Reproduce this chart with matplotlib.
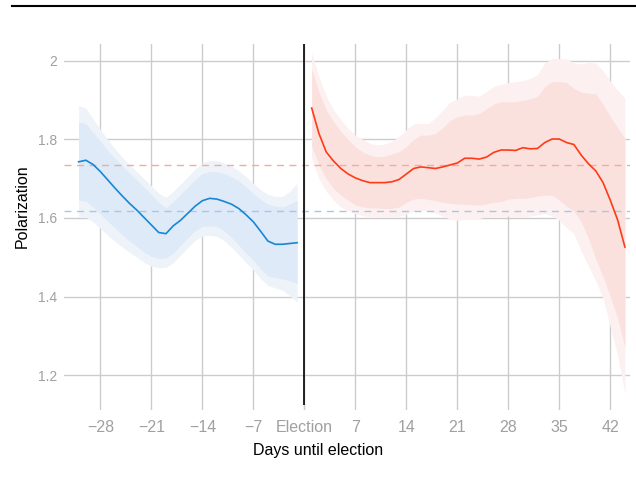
import matplotlib
matplotlib.use("Agg")
import matplotlib.pyplot as plt
from matplotlib.lines import Line2D

plt.rcParams['font.family'] = ['Liberation Sans', 'DejaVu Sans']

# дни до выборов (синяя часть) и после (красная часть)
days_before = list(range(-31, 0))
blue_mid = [1.743, 1.747, 1.736, 1.718, 1.697, 1.676, 1.656, 1.637, 1.620, 1.601,
            1.582, 1.563, 1.560, 1.580, 1.594, 1.612, 1.630, 1.644, 1.650, 1.648,
            1.642, 1.635, 1.624, 1.608, 1.590, 1.566, 1.541, 1.533, 1.533, 1.535, 1.537]
blue_in_hi = [1.844, 1.840, 1.817, 1.795, 1.772, 1.752, 1.733, 1.714, 1.697, 1.678,
              1.660, 1.640, 1.626, 1.642, 1.660, 1.679, 1.698, 1.713, 1.718, 1.718,
              1.713, 1.705, 1.694, 1.679, 1.662, 1.647, 1.635, 1.630, 1.628, 1.635, 1.645]
blue_in_lo = [1.645, 1.643, 1.628, 1.610, 1.592, 1.574, 1.557, 1.541, 1.527, 1.513,
              1.502, 1.497, 1.498, 1.510, 1.530, 1.550, 1.567, 1.578, 1.580, 1.578,
              1.567, 1.550, 1.531, 1.510, 1.492, 1.470, 1.452, 1.448, 1.445, 1.440, 1.433]
blue_out_hi = [1.886, 1.880, 1.852, 1.825, 1.800, 1.776, 1.755, 1.735, 1.718, 1.700,
               1.682, 1.663, 1.652, 1.668, 1.686, 1.705, 1.725, 1.740, 1.747, 1.746,
               1.740, 1.732, 1.720, 1.705, 1.688, 1.672, 1.660, 1.655, 1.655, 1.668, 1.688]
blue_out_lo = [1.603, 1.602, 1.590, 1.573, 1.556, 1.540, 1.526, 1.512, 1.500, 1.487,
               1.477, 1.473, 1.474, 1.486, 1.505, 1.525, 1.543, 1.554, 1.556, 1.553,
               1.542, 1.525, 1.506, 1.486, 1.467, 1.445, 1.428, 1.422, 1.416, 1.402, 1.386]

days_after = list(range(1, 45))
red_mid = [1.880, 1.815, 1.768, 1.745, 1.726, 1.712, 1.702, 1.695, 1.690, 1.690,
           1.690, 1.692, 1.698, 1.712, 1.726, 1.730, 1.728, 1.726, 1.730, 1.735,
           1.740, 1.752, 1.752, 1.750, 1.755, 1.767, 1.773, 1.773, 1.772, 1.779,
           1.776, 1.777, 1.792, 1.801, 1.801, 1.792, 1.787, 1.760, 1.738, 1.720,
           1.690, 1.645, 1.595, 1.526]
red_in_hi = [1.980, 1.920, 1.875, 1.845, 1.820, 1.800, 1.781, 1.768, 1.760, 1.756,
             1.757, 1.763, 1.769, 1.782, 1.800, 1.811, 1.811, 1.815, 1.830, 1.848,
             1.858, 1.862, 1.862, 1.866, 1.878, 1.890, 1.896, 1.896, 1.896, 1.900,
             1.903, 1.910, 1.935, 1.947, 1.947, 1.945, 1.930, 1.920, 1.918, 1.916,
             1.890, 1.858, 1.830, 1.803]
red_in_lo = [1.782, 1.735, 1.700, 1.675, 1.658, 1.645, 1.633, 1.628, 1.626, 1.625,
             1.624, 1.624, 1.628, 1.640, 1.648, 1.650, 1.647, 1.644, 1.640, 1.637,
             1.636, 1.635, 1.634, 1.633, 1.636, 1.640, 1.642, 1.648, 1.650, 1.650,
             1.652, 1.656, 1.658, 1.658, 1.645, 1.630, 1.618, 1.590, 1.548, 1.495,
             1.450, 1.399, 1.345, 1.271]
red_out_hi = [2.020, 1.960, 1.910, 1.875, 1.850, 1.828, 1.811, 1.800, 1.790, 1.786,
              1.788, 1.795, 1.808, 1.825, 1.840, 1.841, 1.840, 1.855, 1.875, 1.895,
              1.903, 1.913, 1.912, 1.910, 1.922, 1.935, 1.940, 1.945, 1.947, 1.950,
              1.955, 1.965, 1.995, 2.006, 2.006, 2.005, 1.995, 1.992, 1.996, 1.994,
              1.975, 1.948, 1.925, 1.905]
red_out_lo = [1.752, 1.700, 1.668, 1.645, 1.628, 1.618, 1.611, 1.606, 1.604, 1.603,
              1.603, 1.603, 1.604, 1.610, 1.618, 1.620, 1.617, 1.612, 1.605, 1.597,
              1.594, 1.596, 1.598, 1.599, 1.602, 1.603, 1.604, 1.605, 1.603, 1.603,
              1.605, 1.608, 1.611, 1.605, 1.594, 1.575, 1.560, 1.515, 1.478, 1.440,
              1.395, 1.322, 1.250, 1.152]

# средние уровни (пунктир)
red_mean = 1.734
blue_mean = 1.617

x_ticks = [-28, -21, -14, -7, 0, 7, 14, 21, 28, 35, 42]
x_tick_labels = ["\u221228", "\u221221", "\u221214", "\u22127", "Election",
                 "7", "14", "21", "28", "35", "42"]
y_ticks = [1.2, 1.4, 1.6, 1.8, 2.0]
y_tick_labels = ["1.2", "1.4", "1.6", "1.8", "2"]

fig = plt.figure(figsize=(6.36, 4.78), dpi=100)
ax = fig.add_axes([64 / 636, 1 - 410 / 478, 566 / 636, 366 / 478])

ax.set_xlim(-33.0, 44.7)
ax.set_ylim(1.111, 2.043)

# полосы
ax.fill_between(days_before, blue_out_lo, blue_out_hi, color="#eef3fa", lw=0, zorder=2)
ax.fill_between(days_before, blue_in_lo, blue_in_hi, color="#deeaf7", lw=0, zorder=3)
ax.fill_between(days_after, red_out_lo, red_out_hi, color="#fcf0f0", lw=0, zorder=2)
ax.fill_between(days_after, red_in_lo, red_in_hi, color="#fbe1dd", lw=0, zorder=3)

ax.axhline(red_mean, color="#f4aa9c", lw=1, ls=(0, (5, 4)), zorder=4)
ax.axhline(blue_mean, color="#a9c6e8", lw=1, ls=(0, (5, 4)), zorder=4)

ax.plot(days_before, blue_mid, color="#1787d4", lw=1.2, zorder=5)
ax.plot(days_after, red_mid, color="#ff3a17", lw=1.2, zorder=5)

ax.vlines(0, 1.124, 2.043, color="black", lw=1.2, zorder=6)

ax.set_xticks(x_ticks)
ax.set_xticklabels(x_tick_labels, fontsize=11.5, color="#a0a0a0")
ax.set_yticks(y_ticks)
ax.set_yticklabels(y_tick_labels, fontsize=10, color="#a0a0a0")
ax.tick_params(axis="x", length=0, pad=7)
ax.tick_params(axis="y", length=0, pad=5)
ax.grid(True, color="#cccccc", lw=1, zorder=0)
ax.set_axisbelow(True)
for s in ax.spines.values():
    s.set_visible(False)

fig.text(0.5, 1 - 450 / 478, "Days until election", ha="center", va="center", fontsize=11.5)
fig.text(22 / 636, 1 - 206 / 478, "Polarization", ha="center", va="center",
         rotation=90, fontsize=11.5)

fig.add_artist(Line2D([12 / 636, 1], [1 - 5.5 / 478, 1 - 5.5 / 478], color="black", lw=1.5))

fig.savefig("out.png", dpi=100)
